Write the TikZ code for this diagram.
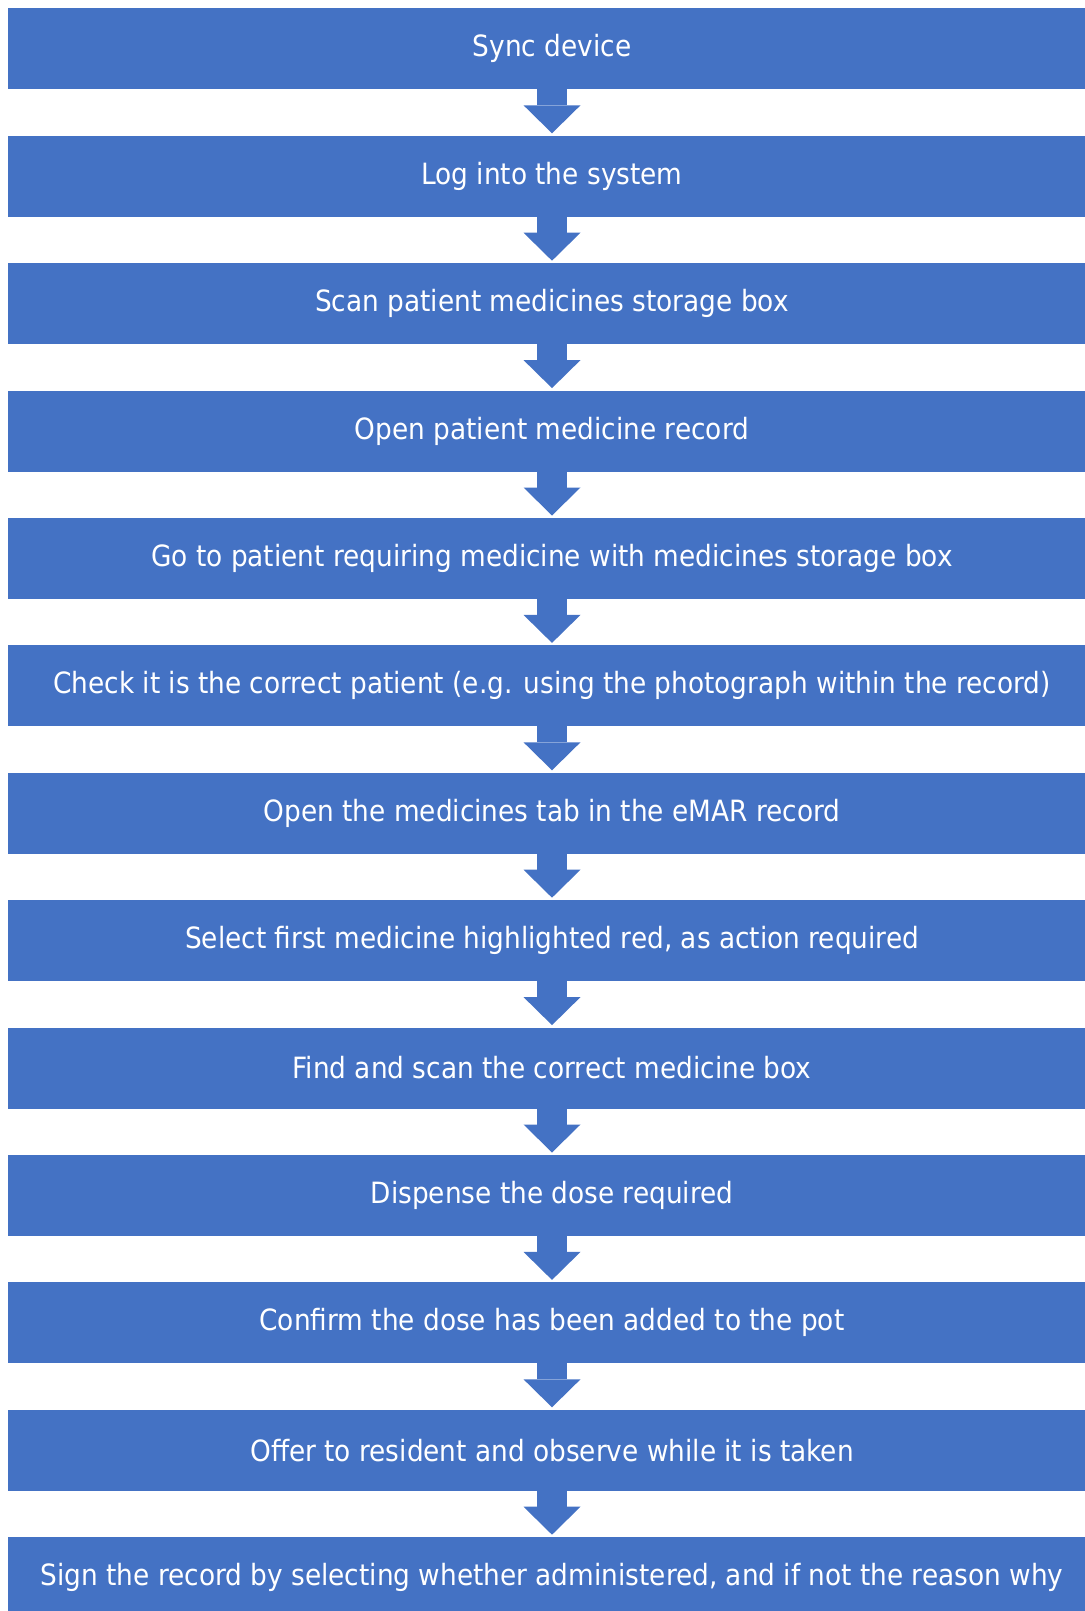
\documentclass[tikz,border=0pt]{standalone}
\usepackage{fontspec}
\setmainfont{DejaVu Sans Condensed}
\usetikzlibrary{arrows.meta,positioning}
\definecolor{stepblue}{HTML}{4472C4}

\begin{document}
\begin{tikzpicture}[
        x=0.5pt, y=0.5pt,
        node distance=23.2pt,
        % Estilo das caixas
        stepbox/.style={rectangle, fill=stepblue, text=white, minimum width=544.5pt, minimum height=40.5pt, inner sep=0pt, outer sep=0pt, align=center, font=\fontsize{14.65}{17}\selectfont},
        % Estilo das setas
        flowarrow/.style={-{Triangle[length=14pt, width=28.5pt, line width=0pt]}, draw=stepblue, line width=14.7pt, shorten >=1.2pt}
    ]
    \clip (0,0) rectangle (1085,-1611);

    % Caixas do fluxo
    \node[stepbox] (sync) at (552,-48.8) {Sync device};
    \node[stepbox, below=of sync] (login) {Log into the system};
    \node[stepbox, below=of login] (scanbox) {Scan patient medicines storage box};
    \node[stepbox, below=of scanbox] (openrec) {Open patient medicine record};
    \node[stepbox, below=of openrec] (goto) {Go to patient requiring medicine with medicines storage box};
    \node[stepbox, below=of goto] (check) {Check it is the correct patient (e.g. using the photograph within the record)};
    \node[stepbox, below=of check] (opentab) {Open the medicines tab in the eMAR record};
    \node[stepbox, below=of opentab] (select) {Select first medicine highlighted red, as action required};
    \node[stepbox, below=of select] (findbox) {Find and scan the correct medicine box};
    \node[stepbox, below=of findbox] (dispense) {Dispense the dose required};
    \node[stepbox, below=of dispense] (confirm) {Confirm the dose has been added to the pot};
    \node[stepbox, below=of confirm] (offer) {Offer to resident and observe while it is taken};
    \node[stepbox, below=of offer] (sign) {Sign the record by selecting whether administered, and if not the reason why};

    % Setas entre as caixas
    \foreach \a/\b in {sync/login, login/scanbox, scanbox/openrec, openrec/goto, goto/check, check/opentab, opentab/select, select/findbox, findbox/dispense, dispense/confirm, confirm/offer, offer/sign}
        \draw[flowarrow] (\a.south) -- (\b.north);

\end{tikzpicture}
\end{document}
